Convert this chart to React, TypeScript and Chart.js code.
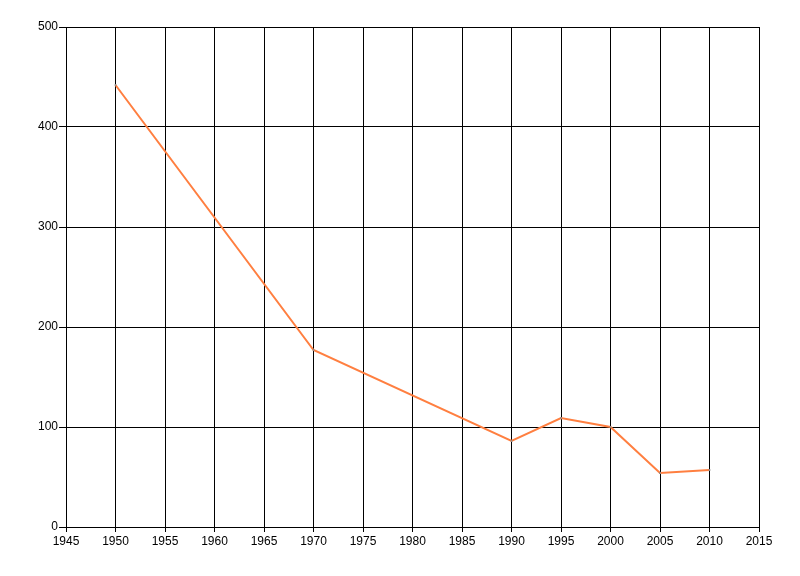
import React, { useEffect, useRef } from "react";
import { Chart, registerables } from "chart.js";

Chart.register(...registerables);

const years = [1950, 1970, 1990, 1995, 2000, 2005, 2010];
const values = [442, 177, 86, 109, 100, 54, 57];
const xMin = 1945;
const xMax = 2015;
const xStep = 5;
const yMin = 0;
const yMax = 500;
const yStep = 100;

export default function App() {
  const ref = useRef<HTMLCanvasElement>(null);
  useEffect(() => {
    if (!ref.current) return;
    const font = { family: "'Liberation Sans', Arial, sans-serif", size: 12 };
    const chart = new Chart(ref.current, {
      type: "line",
      data: {
        datasets: [
          {
            data: years.map((y, i) => ({ x: y, y: values[i] })),
            borderColor: "#FF7F40",
            backgroundColor: "#FF7F40",
            borderWidth: 2,
            pointRadius: 1,
            pointBorderWidth: 0,
            pointBackgroundColor: "#888888",
            tension: 0,
          },
        ],
      },
      options: {
        animation: false,
        responsive: false,
        maintainAspectRatio: false,
        layout: { padding: { left: 0, top: 27, right: 41, bottom: 0 } },
        plugins: { legend: { display: false }, tooltip: { enabled: false } },
        scales: {
          x: {
            type: "linear",
            min: xMin,
            max: xMax,
            ticks: { stepSize: xStep, color: "#000", font, padding: 2, maxRotation: 0, autoSkip: false, callback: (v: any) => String(v) },
            grid: { color: "#000", lineWidth: 1, tickLength: 5, drawTicks: true },
            border: { color: "#000", width: 1 },
            afterFit: (s: any) => { s.height = 49; },
          },
          y: {
            min: yMin,
            max: yMax,
            ticks: { stepSize: yStep, color: "#000", font, padding: 1 },
            grid: { color: "#000", lineWidth: 1, tickLength: 7, drawTicks: true },
            border: { color: "#000", width: 1 },
            afterFit: (s: any) => { s.width = 66; },
          },
        },
      },
    });
    return () => chart.destroy();
  }, []);
  return (
    <div style={{ position: "fixed", left: 0, top: 0, width: 800, height: 576, background: "#fff" }}>
      <canvas ref={ref} width={800} height={576} style={{ width: 800, height: 576 }} />
    </div>
  );
}
